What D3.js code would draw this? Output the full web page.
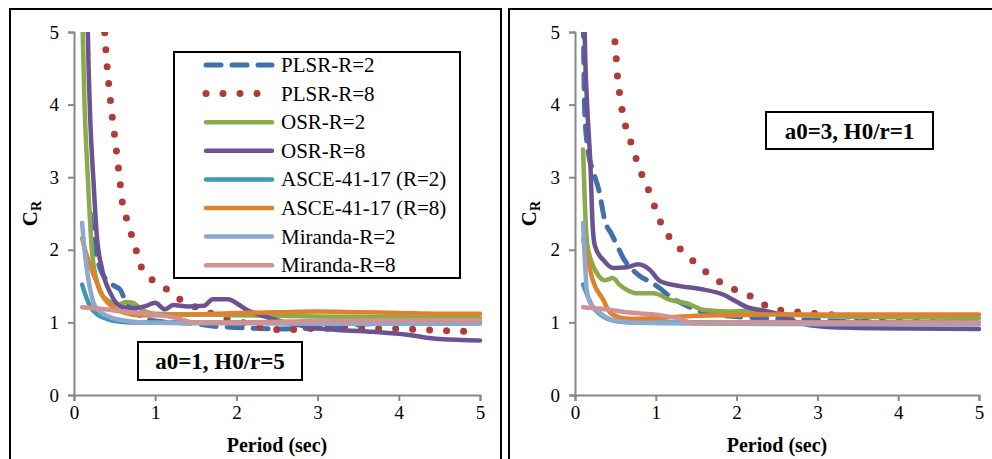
<!DOCTYPE html>
<html><head><meta charset="utf-8">
<script src="https://cdn.jsdelivr.net/npm/d3@7"></script>
<style>
html,body{margin:0;padding:0;background:#fff;}
svg{display:block;}
svg text{font-family:"Liberation Serif","Times New Roman",serif !important;}
</style></head>
<body><svg id="c" width="992" height="459"></svg>
<script>
// ---------- data ----------
const seriesNames = ["PLSR-R=2","PLSR-R=8","OSR-R=2","OSR-R=8","ASCE-41-17 (R=2)","ASCE-41-17 (R=8)","Miranda-R=2","Miranda-R=8"];
const xTicks = [0,1,2,3,4,5];
const yTicks = [0,1,2,3,4,5];
const panelTitles = ["a0=1, H0/r=5","a0=3, H0/r=1"];

// Panel 1 (a0=1, H0/r=5): [period, C_R]
const p1_PLSR_R2 = [[0.2,2.5],[0.26,2.0],[0.33,1.72],[0.4,1.58],[0.5,1.5],[0.57,1.45],[0.62,1.33],[0.7,1.2],[0.8,1.1],[1.0,1.02],[1.5,0.98],[1.7,0.95],[2.0,0.93],[2.5,0.91],[3.0,0.92],[3.5,0.97],[4.0,0.99],[5.0,1.0]];
const p1_PLSR_R8 = [[0.25,8.5],[0.3,7.0],[0.35,5.6],[0.38,4.96],[0.41,4.5],[0.45,4.04],[0.5,3.57],[0.55,3.1],[0.6,2.62],[0.65,2.42],[0.71,2.2],[0.77,1.98],[0.83,1.76],[0.97,1.58],[1.14,1.46],[1.3,1.32],[1.5,1.21],[1.7,1.12],[1.9,1.05],[2.1,0.99],[2.3,0.93],[2.6,0.9],[3.0,0.92],[3.5,0.92],[4.0,0.91],[4.5,0.89],[5.0,0.87]];
const p1_OSR_R2 = [[0.1,5.3],[0.13,4.0],[0.17,3.0],[0.22,2.0],[0.28,1.58],[0.33,1.4],[0.42,1.3],[0.55,1.25],[0.65,1.28],[0.72,1.27],[0.81,1.2],[0.9,1.14],[1.0,1.12],[1.5,1.11],[2.0,1.1],[3.0,1.08],[4.0,1.07],[5.0,1.06]];
const p1_OSR_R8 = [[0.15,6.5],[0.17,5.0],[0.2,3.8],[0.24,2.95],[0.28,2.2],[0.34,1.76],[0.45,1.4],[0.6,1.21],[0.75,1.2],[0.87,1.22],[1.0,1.27],[1.12,1.18],[1.22,1.24],[1.4,1.22],[1.6,1.23],[1.71,1.32],[1.9,1.32],[2.02,1.25],[2.13,1.17],[2.3,1.1],[2.5,1.03],[2.78,0.96],[3.0,0.92],[3.68,0.87],[4.1,0.83],[4.5,0.77],[5.0,0.75]];
const p1_ASCE_R2 = [[0.1,1.52],[0.15,1.35],[0.2,1.22],[0.3,1.1],[0.4,1.05],[0.5,1.02],[0.7,1.0],[1.0,1.0],[2.0,1.0],[3.0,1.0],[4.0,1.0],[5.0,1.0]];
const p1_ASCE_R8 = [[0.1,2.16],[0.15,1.95],[0.22,1.72],[0.3,1.5],[0.36,1.35],[0.48,1.21],[0.6,1.14],[0.8,1.1],[1.0,1.1],[1.5,1.11],[2.0,1.13],[2.5,1.14],[3.0,1.15],[3.5,1.14],[4.0,1.13],[4.5,1.12],[5.0,1.12]];
const p1_Miranda_R2 = [[0.1,2.37],[0.13,2.0],[0.16,1.72],[0.2,1.45],[0.24,1.27],[0.3,1.17],[0.45,1.07],[0.6,1.03],[0.85,1.0],[1.5,0.99],[2.0,0.99],[3.0,0.98],[5.0,0.98]];
const p1_Miranda_R8 = [[0.1,1.21],[0.3,1.19],[0.6,1.15],[1.06,1.1],[1.3,1.05],[1.47,1.0],[2.0,1.0],[3.0,1.02],[4.0,1.03],[5.0,1.03]];

// Panel 2 (a0=3, H0/r=1): [period, C_R]
const p2_PLSR_R2 = [[0.1,5.5],[0.12,3.9],[0.17,3.3],[0.22,3.1],[0.3,2.8],[0.37,2.4],[0.45,2.22],[0.53,2.04],[0.6,1.88],[0.7,1.74],[0.8,1.64],[0.93,1.56],[1.05,1.47],[1.18,1.35],[1.35,1.25],[1.55,1.15],[1.8,1.1],[2.0,1.08],[2.5,1.05],[3.0,1.03],[4.0,1.0],[5.0,1.0]];
const p2_PLSR_R8 = [[0.4,6.5],[0.45,5.4],[0.5,4.79],[0.53,4.33],[0.56,4.1],[0.59,3.87],[0.64,3.65],[0.71,3.42],[0.77,3.21],[0.84,3.0],[0.93,2.77],[1.0,2.55],[1.08,2.33],[1.2,2.13],[1.34,1.97],[1.49,1.82],[1.65,1.67],[1.82,1.54],[2.02,1.43],[2.21,1.34],[2.38,1.22],[2.58,1.16],[2.79,1.14],[3.0,1.12],[3.5,1.08],[4.0,1.06],[5.0,1.05]];
const p2_OSR_R2 = [[0.1,3.38],[0.12,2.7],[0.15,2.09],[0.2,1.85],[0.27,1.68],[0.37,1.58],[0.47,1.61],[0.55,1.52],[0.64,1.45],[0.77,1.4],[0.97,1.4],[1.18,1.31],[1.39,1.26],[1.6,1.17],[1.9,1.15],[2.1,1.16],[2.5,1.12],[3.0,1.09],[4.0,1.07],[5.0,1.06]];
const p2_OSR_R8 = [[0.1,8.0],[0.12,5.0],[0.15,4.0],[0.19,3.2],[0.22,2.3],[0.25,2.04],[0.35,1.86],[0.47,1.75],[0.64,1.76],[0.78,1.8],[0.93,1.72],[1.05,1.57],[1.3,1.5],[1.55,1.46],[1.84,1.38],[1.96,1.31],[2.13,1.21],[2.29,1.17],[2.46,1.13],[2.75,1.0],[3.08,0.94],[3.7,0.92],[5.0,0.91]];
const p2_ASCE_R2 = [[0.1,1.52],[0.15,1.38],[0.2,1.25],[0.3,1.12],[0.4,1.05],[0.5,1.02],[0.7,1.0],[2.0,1.0],[5.0,1.0]];
const p2_ASCE_R8 = [[0.1,2.16],[0.15,1.9],[0.22,1.58],[0.35,1.31],[0.43,1.14],[0.55,1.07],[0.7,1.05],[1.0,1.06],[1.5,1.09],[2.0,1.1],[2.5,1.11],[3.0,1.11],[5.0,1.11]];
const p2_Miranda_R2 = [[0.1,2.37],[0.12,1.9],[0.15,1.4],[0.2,1.25],[0.27,1.17],[0.47,1.03],[0.7,1.0],[1.05,0.99],[2.0,0.98],[5.0,0.97]];
const p2_Miranda_R8 = [[0.1,1.21],[0.3,1.19],[0.64,1.14],[1.05,1.1],[1.3,1.05],[1.47,0.99],[2.0,1.0],[3.0,1.0],[5.0,1.0]];

const panel1 = [p1_PLSR_R2,p1_PLSR_R8,p1_OSR_R2,p1_OSR_R8,p1_ASCE_R2,p1_ASCE_R8,p1_Miranda_R2,p1_Miranda_R8];
const panel2 = [p2_PLSR_R2,p2_PLSR_R8,p2_OSR_R2,p2_OSR_R8,p2_ASCE_R2,p2_ASCE_R8,p2_Miranda_R2,p2_Miranda_R8];

// ---------- styles ----------
const colors = ["#4170AA","#AE3D3A","#8BAA4B","#6B5393","#3B9AB2","#E0812F","#8EA9D0","#D29291"];
const dashes = ["15 11","0 17",null,null,null,null,null,null];
const widths = [5,7,4.5,4.5,4.5,4.5,4.5,4.5];

const svg = d3.select("#c");
const yScale = d3.scaleLinear().domain([0,5]).range([395,32]);

const panels = [
  {data:panel1, frameX:10, frameW:491, x0:74, x1:480, title:panelTitles[0], box:[138,342,302,380], legend:true},
  {data:panel2, frameX:509, frameW:520, x0:575, x1:979, title:panelTitles[1], box:[766,112,933,149], legend:false}
];

panels.forEach((p,pi)=>{
  const g = svg.append("g");
  g.append("rect").attr("x",p.frameX).attr("y",9).attr("width",p.frameW).attr("height",470)
    .attr("fill","none").attr("stroke","#000").attr("stroke-width",2);

  const x = d3.scaleLinear().domain([0,5]).range([p.x0,p.x1]);

  const ax = g.append("g").attr("transform",`translate(0,${yScale(0)})`)
    .call(d3.axisBottom(x).tickValues(xTicks).tickSizeOuter(0).tickSize(6).tickPadding(5).tickFormat(d3.format("d")));
  const ay = g.append("g").attr("transform",`translate(${x(0)},0)`)
    .call(d3.axisLeft(yScale).tickValues(yTicks).tickSizeOuter(0).tickSize(6).tickPadding(9).tickFormat(d3.format("d")));
  [ax,ay].forEach(a=>{
    a.selectAll("path.domain").attr("stroke","#888").attr("stroke-width",2);
    a.selectAll("line").attr("stroke","#888").attr("stroke-width",2);
    a.selectAll("text").attr("font-size",19).attr("fill","#000");
  });

  const cid = "clip"+pi;
  svg.append("clipPath").attr("id",cid).append("rect")
    .attr("x",p.x0).attr("y",yScale(5)).attr("width",p.x1-p.x0+4).attr("height",yScale(0)-yScale(5));

  const line = d3.line().x(d=>x(d[0])).y(d=>yScale(d[1])).curve(d3.curveMonotoneX);
  const lg = g.append("g").attr("clip-path",`url(#${cid})`);
  p.data.forEach((s,i)=>{
    lg.append("path").attr("d",line(s)).attr("fill","none")
      .attr("stroke",colors[i]).attr("stroke-width",widths[i])
      .attr("stroke-linecap","round").attr("stroke-linejoin","round")
      .attr("stroke-dasharray",dashes[i]);
  });

  g.append("text").attr("x",(p.x0+p.x1)/2).attr("y",452).attr("text-anchor","middle")
    .attr("font-weight","bold").attr("font-size",20).text("Period (sec)");
  const yt = g.append("text").attr("transform",`translate(${p.frameX+27},${(yScale(0)+yScale(5))/2}) rotate(-90)`)
    .attr("text-anchor","middle").attr("font-weight","bold").attr("font-size",21);
  yt.append("tspan").text("C");
  yt.append("tspan").attr("font-size",14).attr("dy",4).text("R");

  const b = p.box;
  g.append("rect").attr("x",b[0]).attr("y",b[1]).attr("width",b[2]-b[0]).attr("height",b[3]-b[1])
    .attr("fill","#fff").attr("stroke","#000").attr("stroke-width",2);
  g.append("text").attr("x",(b[0]+b[2])/2).attr("y",(b[1]+b[3])/2+8).attr("text-anchor","middle")
    .attr("font-weight","bold").attr("font-size",23).text(p.title);

  if(p.legend){
    const L = g.append("g");
    L.append("rect").attr("x",174).attr("y",52).attr("width",286).attr("height",226)
      .attr("fill","#fff").attr("stroke","#000").attr("stroke-width",2);
    seriesNames.forEach((n,i)=>{
      const yy = 65 + i*28.6;
      L.append("line").attr("x1",206).attr("x2",i===1?262:272).attr("y1",yy).attr("y2",yy)
        .attr("stroke",colors[i]).attr("stroke-width",widths[i]).attr("stroke-linecap","round")
        .attr("stroke-dasharray",dashes[i]);
      L.append("text").attr("x",281).attr("y",yy+7).attr("font-size",21).text(n);
    });
  }
});
</script></body></html>
